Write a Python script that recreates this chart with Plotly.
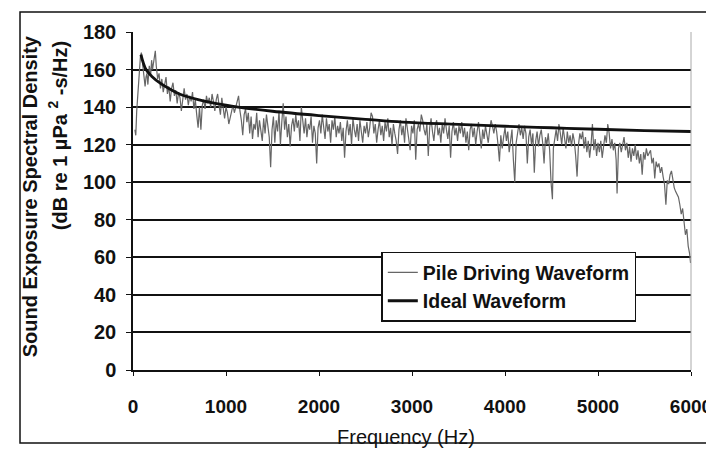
import plotly.graph_objects as go

# ---- data ----
pile_freq = [
    20, 30, 40, 50, 60, 70, 80, 90, 100, 110, 120, 130, 140, 150, 160, 175, 190, 200, 210, 225, 240, 250, 265, 280, 295,
    310, 325, 340, 355, 370, 385, 400, 415, 430, 445, 460, 475, 490, 505, 520, 535, 550, 565, 580, 595, 610, 625, 640, 655, 670, 685, 700,
    715, 730, 745, 760, 775, 790, 805, 820, 835, 850, 865, 880, 895, 910, 925, 940, 955, 970, 985, 1000, 1015, 1030, 1045, 1060, 1075, 1090,
    1105, 1120, 1135, 1150, 1165, 1180, 1195, 1210, 1225, 1240, 1255, 1270, 1285, 1300, 1315, 1330, 1345, 1360, 1375, 1390, 1405, 1420, 1435, 1450, 1465, 1480, 1495,
    1510, 1525, 1540, 1555, 1570, 1585, 1600, 1615, 1630, 1645, 1660, 1675, 1690, 1705, 1720, 1735, 1750, 1765, 1780, 1795, 1810, 1825, 1840, 1855, 1870, 1885, 1900, 1915, 1930, 1945, 1960, 1975, 1990,
    2005, 2020, 2035, 2050, 2065, 2080, 2095, 2110, 2125, 2140, 2155, 2170, 2185, 2200, 2215, 2230, 2245, 2260, 2275, 2290, 2305, 2320, 2335, 2350, 2365, 2380, 2395, 2410, 2425, 2440, 2455, 2470, 2485, 2500,
    2515, 2530, 2545, 2560, 2575, 2590, 2605, 2620, 2635, 2650, 2665, 2680, 2695, 2710, 2725, 2740, 2755, 2770, 2785, 2800, 2815, 2830, 2845, 2860, 2875, 2890, 2905, 2920, 2935, 2950, 2965, 2980, 2995,
    3010, 3025, 3040, 3055, 3070, 3085, 3100, 3115, 3130, 3145, 3160, 3175, 3190, 3205, 3220, 3235, 3250, 3265, 3280, 3295, 3310, 3325, 3340, 3355, 3370, 3385, 3400, 3415, 3430, 3445, 3460, 3475, 3490,
    3505, 3520, 3535, 3550, 3565, 3580, 3595, 3610, 3625, 3640, 3655, 3670, 3685, 3700, 3715, 3730, 3745, 3760, 3775, 3790, 3805, 3820, 3835, 3850, 3865, 3880, 3895, 3910, 3925, 3940, 3955, 3970, 3985, 4000,
    4015, 4030, 4045, 4060, 4075, 4090, 4105, 4120, 4135, 4150, 4165, 4180, 4195, 4210, 4225, 4240, 4255, 4270, 4285, 4300, 4315, 4330, 4345, 4360, 4375, 4390, 4405, 4420, 4435, 4450, 4465, 4480, 4495,
    4510, 4520, 4535, 4550, 4565, 4580, 4595, 4610, 4625, 4640, 4655, 4670, 4685, 4700, 4715, 4730, 4745, 4760, 4775, 4790, 4805, 4820, 4835, 4850, 4865, 4880, 4895, 4910, 4925, 4940, 4955, 4970, 4985, 5000,
    5015, 5030, 5045, 5060, 5075, 5090, 5105, 5120, 5135, 5150, 5165, 5180, 5195, 5205, 5220, 5235, 5250, 5265, 5280, 5295, 5310, 5325, 5340, 5355, 5370, 5385, 5400, 5415, 5430, 5445, 5460, 5475, 5490,
    5505, 5520, 5535, 5550, 5565, 5580, 5595, 5610, 5625, 5640, 5655, 5670, 5685, 5700, 5715, 5730, 5745, 5760, 5775, 5790, 5805, 5820, 5835, 5850, 5865, 5880, 5895, 5910, 5925, 5940, 5955, 5970, 5985, 5995,
]
pile_level = [
    128, 125, 138, 146, 155, 162, 167, 169, 165, 160, 154, 151, 156, 158, 152, 162, 157, 165, 160, 166, 170, 162, 155, 158, 150,
    155, 148, 152, 156, 147, 151, 143, 150, 153, 146, 149, 142, 148, 145, 138, 146, 150, 144, 147, 141, 146, 143, 148, 139, 144, 136, 129,
    140, 128, 141, 144, 139, 146, 142, 145, 140, 147, 143, 138, 144, 147, 141, 136, 145, 138, 134, 140, 137, 131, 135, 139, 141, 137,
    140, 143, 146, 138, 133, 125, 136, 139, 132, 137, 126, 135, 123, 131, 128, 137, 124, 133, 127, 122, 134, 126, 136, 130, 124, 108, 128,
    135, 121, 133, 127, 138, 120, 132, 142, 128, 135, 124, 131, 119, 130, 134, 127, 136, 129, 133, 122, 140, 131, 126, 134, 124, 131, 128, 135, 121, 130, 126, 110, 129,
    133, 126, 136, 129, 123, 134, 127, 131, 121, 133, 128, 135, 124, 130, 126, 132, 122, 129, 113, 127, 133, 125, 131, 120, 134, 128, 124, 131, 122, 133, 127, 121, 130, 126,
    132, 124, 129, 137, 135, 126, 131, 121, 128, 133, 125, 130, 122, 132, 127, 134, 124, 129, 120, 131, 126, 122, 115, 128, 133, 125, 130, 121, 134, 127, 123, 117, 130,
    126, 133, 112, 128, 131, 127, 136, 133, 128, 125, 131, 114, 129, 134, 127, 122, 130, 133, 125, 129, 121, 131, 126, 134, 128, 123, 130, 113, 127, 132, 125, 129, 122,
    130, 126, 132, 124, 129, 121, 127, 117, 128, 131, 124, 129, 120, 127, 132, 125, 118, 128, 123, 130, 126, 121, 128, 133, 130, 126, 131, 127, 120, 111, 125, 118, 124, 129,
    122, 127, 116, 124, 128, 112, 100, 121, 127, 131, 125, 129, 123, 130, 126, 110, 124, 128, 120, 126, 105, 122, 127, 119, 125, 128, 121, 110, 124, 120, 126, 117, 100,
    91, 118, 124, 128, 122, 131, 126, 120, 129, 124, 118, 127, 121, 125, 119, 126, 122, 114, 103, 120, 126, 123, 127, 118, 124, 116, 122, 113, 120, 131, 117, 123, 114, 121,
    116, 122, 113, 119, 125, 121, 131, 126, 118, 123, 117, 121, 112, 94, 118, 121, 116, 120, 124, 117, 121, 113, 119, 111, 118, 114, 120, 112, 117, 110, 115, 104, 116,
    112, 118, 114, 116, 117, 110, 113, 102, 111, 108, 110, 105, 108, 103, 99, 88, 101, 99, 104, 106, 100, 97, 95, 93, 92, 88, 83, 86, 80, 72, 75, 66, 62, 57,
]
ideal_freq = [85, 140, 200, 300, 400, 500, 700, 900, 1130, 1500, 2000, 2500, 2900, 3500, 4000, 4500, 5000, 5500, 6000]
ideal_level = [168, 160, 156.5, 152.5, 149.5, 147, 144, 141.8, 140, 137.8, 135.5, 133.5, 132, 130.8, 129.8, 129, 128.2, 127.5, 127]

x_ticks = [0, 1000, 2000, 3000, 4000, 5000, 6000]
y_ticks = [0, 20, 40, 60, 80, 100, 120, 140, 160, 180]

FONT = "Liberation Sans, Arial, sans-serif"
INK = "#111111"

fig = go.Figure()
fig.add_trace(go.Scatter(x=pile_freq, y=pile_level, mode="lines", name="Pile Driving Waveform",
                         line=dict(color="#666666", width=1.2)))
fig.add_trace(go.Scatter(x=ideal_freq, y=ideal_level, mode="lines", name="Ideal Waveform",
                         line=dict(color=INK, width=2.8, shape="spline")))

# the page body adds an 8 px offset, so the figure is sized 8 px smaller
fig.update_layout(
    width=706, height=443,
    margin=dict(l=125, r=23, t=24, b=81),
    paper_bgcolor="white", plot_bgcolor="white",
    font=dict(family=FONT, color=INK),
    showlegend=True,
    legend=dict(x=0.445, y=0.35, xanchor="left", yanchor="top",
                bgcolor="white", bordercolor=INK, borderwidth=1.5,
                itemwidth=30,
                font=dict(family=FONT, size=19.5, color=INK, weight="bold")),
    xaxis=dict(range=[0, 6000], tickvals=x_ticks, showgrid=False, zeroline=False, automargin=False,
               showline=True, linecolor=INK, linewidth=1.5,
               ticks="outside", ticklen=4, tickcolor=INK, ticklabelstandoff=14,
               tickfont=dict(family=FONT, size=19, weight="bold", color=INK)),
    yaxis=dict(range=[0, 180], tickvals=y_ticks, showgrid=True, gridcolor=INK, gridwidth=1.5,
               zeroline=False, showline=True, linecolor=INK, linewidth=1.5, automargin=False,
               ticks="outside", ticklen=5, tickcolor=INK, ticklabelstandoff=6,
               tickfont=dict(family=FONT, size=20, weight="bold", color=INK)),
    annotations=[
        dict(text="<b>Sound Exposure Spectral Density</b>",
             x=-0.184, y=0.515, xref="paper", yref="paper", textangle=-90,
             showarrow=False, xanchor="center", yanchor="middle",
             font=dict(family=FONT, size=20, color=INK)),
        dict(text="<b>(dB re 1 µPa <sup>2</sup> -s/Hz)</b>",
             x=-0.134, y=0.978, xref="paper", yref="paper", textangle=-90,
             showarrow=False, xanchor="center", yanchor="top",
             font=dict(family=FONT, size=20, color=INK)),
        dict(text="Frequency (Hz)", x=0.49, y=-0.198, xref="paper", yref="paper",
             showarrow=False, xanchor="center", yanchor="middle",
             font=dict(family=FONT, size=20, color=INK)),
    ],
    shapes=[
        dict(type="rect", xref="paper", yref="paper", x0=-0.2025, x1=1.03, y0=-0.216, y1=1.059,
             line=dict(color=INK, width=1.5)),
        dict(type="line", xref="paper", yref="paper", x0=1, x1=1, y0=0, y1=1,
             line=dict(color="#aaaaaa", width=1)),
    ],
)

fig.write_html("out.html")
